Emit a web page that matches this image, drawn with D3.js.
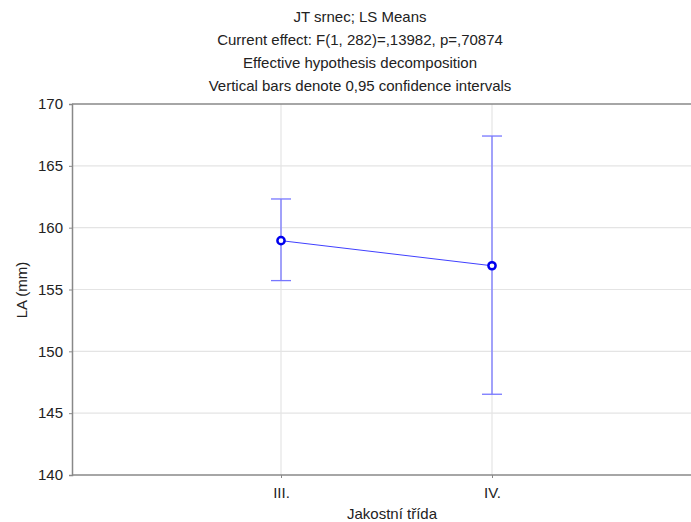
<!DOCTYPE html>
<html>
<head>
<meta charset="utf-8">
<script src="https://cdn.jsdelivr.net/npm/d3@7"></script>
<style>
  body { margin: 0; background: #fff; }
  svg text { font-family: "Liberation Sans", Arial, sans-serif; fill: #222; }
</style>
</head>
<body>
<svg id="chart" width="691" height="522"></svg>
<script>
// data
var categories = ["III.", "IV."];
var means = [158.95, 156.92];
var lower = [155.72, 146.53];
var upper = [162.32, 167.41];
var yTicks = [140, 145, 150, 155, 160, 165, 170];
var titleLines = [
  "JT srnec; LS Means",
  "Current effect: F(1, 282)=,13982, p=,70874",
  "Effective hypothesis decomposition",
  "Vertical bars denote 0,95 confidence intervals"
];

var svg = d3.select("svg#chart");
// plot box (right edge runs past the window, as in the original)
var plotLeft = 72, plotTop = 104, plotBottom = 475, plotRight = 703;
var fontSize = "15px";

var x = d3.scalePoint().domain(categories).range([70, plotRight]).padding(1);
var y = d3.scaleLinear().domain([140, 170]).range([plotBottom, plotTop]);

// title
svg.append("g")
  .selectAll("text")
  .data(titleLines)
  .enter()
  .append("text")
  .attr("x", 360)
  .attr("y", function (d, i) { return 22 + i * 23; })
  .attr("text-anchor", "middle")
  .style("font-size", fontSize)
  .text(function (d) { return d; });

// grid
var grid = svg.append("g");
grid.selectAll("line.hg")
  .data(yTicks.slice(1, -1))
  .enter()
  .append("line")
  .attr("x1", plotLeft).attr("x2", 691)
  .attr("y1", function (d) { return y(d); })
  .attr("y2", function (d) { return y(d); })
  .attr("stroke", "#e4e4e4").attr("stroke-width", 1.2);
grid.selectAll("line.vg")
  .data(categories)
  .enter()
  .append("line")
  .attr("x1", function (d) { return x(d); })
  .attr("x2", function (d) { return x(d); })
  .attr("y1", plotTop).attr("y2", plotBottom)
  .attr("stroke", "#e4e4e4").attr("stroke-width", 1.2);

// axes
var yAxis = svg.append("g")
  .attr("transform", "translate(" + plotLeft + ",0)")
  .call(d3.axisLeft(y).tickValues(yTicks).tickSize(3).tickPadding(6));
yAxis.select(".domain").attr("stroke", "#888").attr("stroke-width", 1.5);
yAxis.selectAll(".tick line").attr("stroke", "#888");
yAxis.selectAll("text").style("font-size", fontSize).attr("fill", "#222");

var xAxis = svg.append("g")
  .attr("transform", "translate(0," + plotBottom + ")")
  .call(d3.axisBottom(x).tickSize(3).tickPadding(9));
xAxis.select(".domain").remove();
xAxis.selectAll(".tick line").attr("stroke", "#888");
xAxis.selectAll("text").style("font-size", fontSize).attr("fill", "#222");

// frame top & bottom
svg.append("line").attr("x1", plotLeft).attr("x2", 691).attr("y1", plotTop).attr("y2", plotTop)
  .attr("stroke", "#888").attr("stroke-width", 1.5);
svg.append("line").attr("x1", plotLeft).attr("x2", 691).attr("y1", plotBottom).attr("y2", plotBottom)
  .attr("stroke", "#888").attr("stroke-width", 1.5);

// axis titles
svg.append("text")
  .attr("x", 392).attr("y", 519)
  .attr("text-anchor", "middle")
  .style("font-size", fontSize)
  .text("Jakostní třída");
svg.append("text")
  .attr("transform", "translate(27,290) rotate(-90)")
  .attr("text-anchor", "middle")
  .style("font-size", fontSize)
  .text("LA (mm)");

// error bars
var bars = svg.append("g").attr("stroke", "#7777ff").attr("stroke-width", 1.3);
categories.forEach(function (c, i) {
  bars.append("line")
    .attr("x1", x(c)).attr("x2", x(c))
    .attr("y1", y(lower[i])).attr("y2", y(upper[i]));
  [lower[i], upper[i]].forEach(function (v) {
    bars.append("line")
      .attr("x1", x(c) - 10).attr("x2", x(c) + 10)
      .attr("y1", y(v)).attr("y2", y(v));
  });
});

// mean line and points
var line = d3.line()
  .x(function (d, i) { return x(categories[i]); })
  .y(function (d) { return y(d); });
svg.append("path")
  .datum(means)
  .attr("d", line)
  .attr("fill", "none")
  .attr("stroke", "#4040ff")
  .attr("stroke-width", 1);

svg.selectAll("circle.pt")
  .data(means)
  .enter()
  .append("circle")
  .attr("cx", function (d, i) { return x(categories[i]); })
  .attr("cy", function (d) { return y(d); })
  .attr("r", 3.6)
  .attr("fill", "#fff")
  .attr("stroke", "#0000ee")
  .attr("stroke-width", 2.5);
</script>
</body>
</html>
